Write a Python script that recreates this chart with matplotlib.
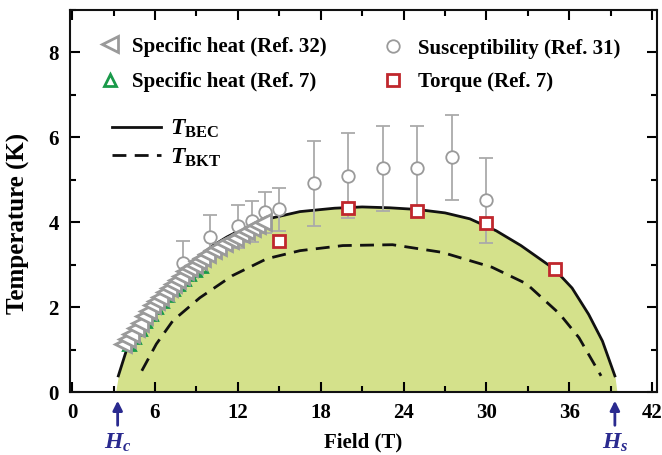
import matplotlib
matplotlib.use("Agg")
import matplotlib.pyplot as plt
from matplotlib.lines import Line2D
from matplotlib.ticker import MultipleLocator

plt.rcParams['font.family'] = ['Liberation Serif', 'DejaVu Serif']
plt.rcParams['font.weight'] = 'bold'
plt.rcParams['mathtext.fontset'] = 'custom'
plt.rcParams['mathtext.rm'] = 'Liberation Serif:bold'
plt.rcParams['mathtext.it'] = 'Liberation Serif:bold:italic'
plt.rcParams['mathtext.bf'] = 'Liberation Serif:bold'

# ---------------- data ----------------
bec_field = [3.15, 3.35, 4.05, 4.8, 5.5, 6.3, 7.2, 8.2, 9.2, 10.2, 11.2, 12.2, 13.2, 14.2,
             16.5, 19.0, 21.0, 23.0, 25.0, 27.0, 28.8, 30.7, 32.5, 34.9, 36.2, 37.4, 38.4, 39.3, 39.45]
bec_temp = [0.0, 0.38, 1.1, 1.55, 1.9, 2.25, 2.6, 2.92, 3.2, 3.45, 3.65, 3.82, 3.95, 4.08,
            4.25, 4.33, 4.36, 4.34, 4.30, 4.22, 4.08, 3.80, 3.45, 2.90, 2.45, 1.83, 1.20, 0.38, 0.0]

bkt_field = [5.05, 6.1, 7.3, 9.25, 11.6, 14.1, 16.5, 19.6, 23.2, 26.8, 30.4, 32.9, 35.3, 36.7, 38.3]
bkt_temp = [0.5, 1.13, 1.68, 2.22, 2.74, 3.14, 3.33, 3.45, 3.47, 3.29, 2.94, 2.55, 1.84, 1.28, 0.38]

sh32_field = [3.7, 4.0, 4.3, 4.6, 4.9, 5.2, 5.5, 5.8, 6.1, 6.4, 6.7, 7.0, 7.3, 7.6, 7.9, 8.2,
              8.5, 8.8, 9.1, 9.4, 9.8, 10.2, 10.6, 11.0, 11.4, 11.8, 12.2, 12.6, 13.0, 13.4, 13.8]
sh32_temp = [1.13, 1.25, 1.37, 1.50, 1.63, 1.80, 1.92, 2.04, 2.15, 2.25, 2.35, 2.45, 2.55, 2.65,
             2.74, 2.84, 2.92, 3.00, 3.08, 3.15, 3.25, 3.34, 3.42, 3.50, 3.57, 3.64, 3.72, 3.80,
             3.87, 3.93, 4.00]

sh7_field = [4.1, 4.5, 4.9, 5.3, 5.7, 6.1, 6.5, 6.9, 7.3, 7.7, 8.1, 8.5, 8.9, 9.3]
sh7_temp = [1.12, 1.30, 1.48, 1.68, 1.84, 2.00, 2.14, 2.28, 2.42, 2.55, 2.67, 2.78, 2.88, 2.98]

sus_field = [8.0, 10.0, 12.0, 13.0, 14.0, 15.0, 17.5, 20.0, 22.5, 25.0, 27.5, 30.0]
sus_temp = [3.05, 3.66, 3.90, 4.02, 4.23, 4.30, 4.92, 5.10, 5.27, 5.27, 5.53, 4.52]
sus_err = [0.5, 0.52, 0.5, 0.48, 0.48, 0.5, 1.0, 1.0, 1.0, 1.0, 1.0, 1.0]

tor_field = [15.0, 20.0, 25.0, 30.0, 35.0]
tor_temp = [3.55, 4.33, 4.27, 3.97, 2.90]

hc_field = 3.3
hs_field = 39.3

xticks = [0, 6, 12, 18, 24, 30, 36, 42]
yticks = [0, 2, 4, 6, 8]

# ---------------- figure ----------------
W, H = 662, 455
fig = plt.figure(figsize=(W / 100, H / 100), dpi=100)
ax = fig.add_axes([70 / W, (H - 392) / H, 587 / W, 382 / H])

fill_c = '#d4e18b'
gray = '#9a9a9a'
green = '#1a9a4a'
red = '#c0272d'
navy = '#2a2a8f'

ax.fill_between(bec_field, bec_temp, 0, color=fill_c, lw=0, zorder=1)
ax.plot(bec_field[1:-1], bec_temp[1:-1], color='#111111', lw=2.0, zorder=2)
ax.plot(bkt_field, bkt_temp, color='#111111', lw=2.0, ls=(0, (5, 3)), zorder=2)

ax.errorbar(sus_field, sus_temp, yerr=sus_err, fmt='o', ms=9, mfc='white', mec=gray,
            mew=1.3, ecolor='#aaaaaa', elinewidth=1.3, capsize=5, capthick=1.3, zorder=3)
ax.plot(sh7_field, sh7_temp, '^', ms=9, mfc='none', mec=green, mew=2.0, zorder=4)
ax.plot(sh32_field, sh32_temp, '<', ms=12, mfc='white', mec=gray, mew=2.0, zorder=5)
ax.plot(tor_field, tor_temp, 's', ms=9, mfc='white', mec=red, mew=2.0, zorder=6)

ax.set_xlim(-0.15, 42.35)
ax.set_ylim(0, 9)
ax.set_xticks(xticks)
ax.set_yticks(yticks)
ax.xaxis.set_minor_locator(MultipleLocator(3))
ax.yaxis.set_minor_locator(MultipleLocator(1))
ax.tick_params(which='both', direction='in', top=True, right=True, width=1.5)
ax.tick_params(which='major', length=7, labelsize=15, pad=8)
ax.tick_params(which='minor', length=4)
for lab in ax.get_xticklabels() + ax.get_yticklabels():
    lab.set_fontweight('bold')
for s in ax.spines.values():
    s.set_linewidth(1.5)
    s.set_color('#111111')

ax.set_xlabel('Field (T)', fontsize=15, fontweight='bold', labelpad=7)
ax.set_ylabel('Temperature (K)', fontsize=18, fontweight='bold')
ax.yaxis.set_label_coords(-0.068, 0.44)

# Hc / Hs arrows
for hx, lab in [(hc_field, '$H_c$'), (hs_field, '$H_s$')]:
    ax.annotate('', xy=(hx, -0.14), xytext=(hx, -0.85), xycoords='data',
                arrowprops=dict(arrowstyle='-|>', color=navy, lw=2, mutation_scale=14),
                annotation_clip=False)
    ax.text(hx, -1.2, lab, color=navy, fontsize=17, ha='center', va='center', clip_on=False)

# legends
h1 = [Line2D([], [], ls='none', marker='<', ms=11, mfc='white', mec=gray, mew=2.0),
      Line2D([], [], ls='none', marker='^', ms=9, mfc='white', mec=green, mew=2.0)]
leg1 = ax.legend(h1, ['Specific heat (Ref. 32)', 'Specific heat (Ref. 7)'],
                 loc='upper left', bbox_to_anchor=(0.051, 0.93), frameon=False,
                 borderpad=0, borderaxespad=0, handlelength=1.0, handletextpad=0.55,
                 labelspacing=0.75, prop={'size': 15, 'weight': 'bold'})
ax.add_artist(leg1)

h2 = [Line2D([], [], color='#111111', lw=2.0),
      Line2D([], [], color='#111111', lw=2.0, ls=(0, (5, 3)))]
leg2 = ax.legend(h2, [r'$T_{\mathrm{BEC}}$', r'$T_{\mathrm{BKT}}$'],
                 loc='upper left', bbox_to_anchor=(0.071, 0.717), frameon=False,
                 borderpad=0, borderaxespad=0, handlelength=2.1, handletextpad=0.35,
                 labelspacing=0.25, prop={'size': 17, 'weight': 'bold'})
ax.add_artist(leg2)

h3 = [Line2D([], [], ls='none', marker='o', ms=9, mfc='white', mec=gray, mew=1.3),
      Line2D([], [], ls='none', marker='s', ms=9, mfc='white', mec=red, mew=2.0)]
leg3 = ax.legend(h3, ['Susceptibility (Ref. 31)', 'Torque (Ref. 7)'],
                 loc='upper left', bbox_to_anchor=(0.532, 0.925), frameon=False,
                 borderpad=0, borderaxespad=0, handlelength=1.0, handletextpad=0.7,
                 labelspacing=0.65, prop={'size': 15, 'weight': 'bold'})

fig.savefig('out.png', dpi=100)
